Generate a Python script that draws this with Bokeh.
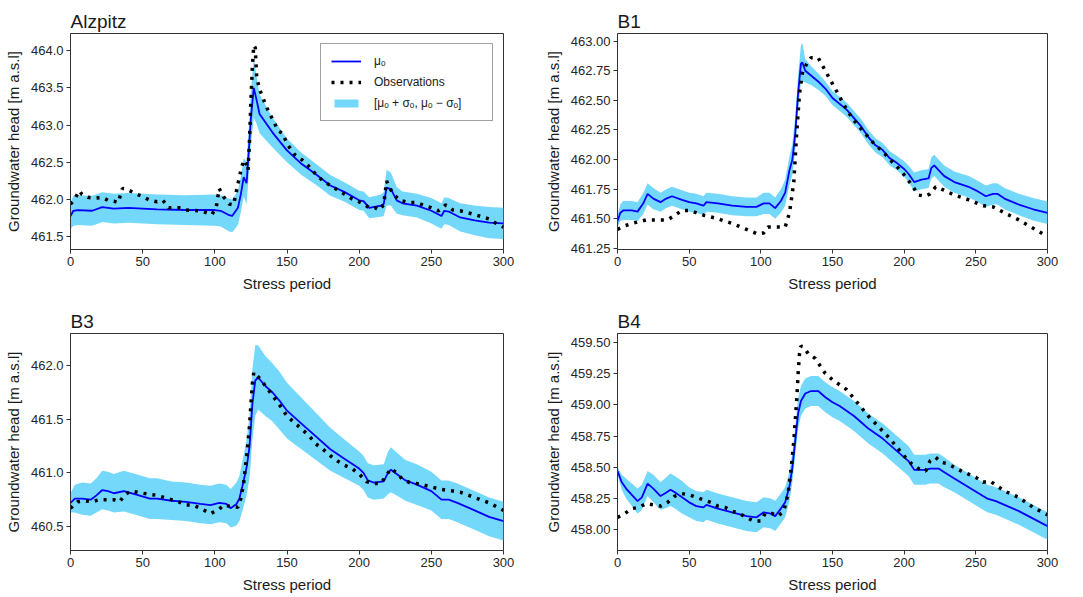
from bokeh.plotting import figure
from bokeh.layouts import column, row
from bokeh.models import Range1d, FixedTicker, NumeralTickFormatter, Legend, LegendItem
from bokeh.embed import file_html
from bokeh.resources import INLINE

FONT = "Liberation Sans"
BAND = "#74d8fb"
LINE = "#0000ff"
AX = "#333333"

x_ticks = [0, 50, 100, 150, 200, 250, 300]

# ---------------- Alzpitz ----------------
alz_x = [0, 2, 5, 15, 22, 30, 40, 60, 80, 100, 104, 110, 112, 116, 118, 120, 122, 124, 125, 127,
         129, 131, 140, 150, 160, 170, 180, 190, 200, 203, 207, 215, 217, 219, 222, 226, 230, 240, 250, 257,
         259, 262, 270, 280, 290, 300]
alz_mean = [461.78, 461.85, 461.86, 461.85, 461.90, 461.88, 461.89, 461.87, 461.86, 461.86,
            461.85, 461.79, 461.78, 461.89, 462.07, 462.30, 462.22, 462.79, 463.10, 463.50,
            463.33, 463.15, 462.90, 462.66, 462.48, 462.34, 462.19, 462.10, 461.99, 461.98,
            461.89, 461.92, 461.94, 462.16, 462.14, 461.99, 461.95, 461.92, 461.85, 461.78,
            461.85, 461.84, 461.76, 461.72, 461.69, 461.68]
alz_sigma = [0.18, 0.20, 0.20, 0.20, 0.20, 0.20, 0.20, 0.20, 0.20, 0.21,
             0.21, 0.22, 0.22, 0.23, 0.24, 0.26, 0.28, 0.32, 0.36, 0.40,
             0.32, 0.26, 0.20, 0.16, 0.15, 0.14, 0.14, 0.13, 0.13, 0.13,
             0.14, 0.15, 0.16, 0.24, 0.22, 0.18, 0.16, 0.16, 0.17, 0.17,
             0.18, 0.18, 0.19, 0.20, 0.21, 0.21]
alz_obs_x = [0, 3, 6, 8, 12, 17, 22, 26, 30, 33, 36, 40, 45, 50, 55, 60, 64, 68, 75, 80,
             90, 98, 101, 103, 106, 110, 113, 116, 118, 120, 122, 123, 124, 125, 126, 127, 128, 129, 131, 134,
             137, 140, 144, 147, 150, 155, 160, 165, 170, 175, 180, 185, 190, 195, 200, 204, 207, 211, 214, 217,
             219, 221, 224, 228, 235, 240, 245, 250, 255, 258, 260, 265, 270, 280, 290, 295, 300]
alz_obs = [461.94, 462.01, 462.12, 462.07, 462.03, 462.02, 462.03, 461.99, 461.98, 461.96,
           462.15, 462.13, 462.08, 462.04, 461.99, 461.97, 461.99, 461.89, 461.89, 461.86,
           461.85, 461.80, 461.90, 462.15, 462.04, 461.94, 461.93, 462.21, 462.39, 462.53,
           462.47, 462.39, 462.79, 463.33, 463.78, 464.07, 464.04, 463.64, 463.48, 463.33,
           463.19, 463.08, 462.92, 462.89, 462.75, 462.61, 462.54, 462.45, 462.34, 462.25,
           462.19, 462.13, 462.07, 462.01, 461.97, 461.93, 461.89, 461.89, 461.86, 461.93,
           462.25, 462.16, 462.07, 461.99, 461.96, 461.96, 461.92, 461.89, 461.85, 461.89,
           461.93, 461.86, 461.85, 461.80, 461.74, 461.68, 461.63]
alz_yticks = [461.5, 462.0, 462.5, 463.0, 463.5, 464.0]

# ---------------- B1 ----------------
b1_x = [0, 2, 4, 10, 14, 18, 21, 25, 30, 34, 38, 45, 50, 55, 60, 62, 70, 80, 90, 97,
        102, 106, 110, 114, 117, 120, 122, 124, 126, 128, 129, 131, 135, 140, 145, 150, 155, 160, 165, 170,
        175, 180, 185, 190, 195, 200, 203, 207, 212, 217, 219, 221, 224, 228, 235, 245, 250, 257, 262, 265,
        270, 280, 290, 300]
b1_mean = [461.48, 461.55, 461.57, 461.57, 461.56, 461.63, 461.71, 461.67, 461.64, 461.67,
           461.69, 461.66, 461.64, 461.63, 461.61, 461.64, 461.63, 461.61, 461.60, 461.60,
           461.63, 461.63, 461.59, 461.65, 461.72, 461.91, 462.00, 462.22, 462.56, 462.81,
           462.82, 462.75, 462.71, 462.66, 462.60, 462.52, 462.47, 462.42, 462.35, 462.28,
           462.19, 462.12, 462.08, 462.01, 461.97, 461.92, 461.88, 461.81, 461.83, 461.84,
           461.93, 461.95, 461.91, 461.86, 461.81, 461.77, 461.74, 461.69, 461.71, 461.71,
           461.67, 461.62, 461.58, 461.55]
b1_sigma = [0.05, 0.07, 0.08, 0.08, 0.08, 0.09, 0.09, 0.09, 0.08, 0.08,
            0.08, 0.08, 0.08, 0.08, 0.08, 0.08, 0.08, 0.08, 0.08, 0.08,
            0.09, 0.09, 0.09, 0.10, 0.11, 0.12, 0.13, 0.14, 0.15, 0.16,
            0.16, 0.10, 0.08, 0.07, 0.06, 0.06, 0.06, 0.06, 0.06, 0.06,
            0.06, 0.06, 0.06, 0.06, 0.06, 0.065, 0.07, 0.08, 0.08, 0.08,
            0.09, 0.09, 0.09, 0.09, 0.09, 0.09, 0.09, 0.09, 0.09, 0.09,
            0.09, 0.09, 0.095, 0.095]
b1_obs_x = [0, 5, 10, 20, 25, 35, 40, 45, 50, 60, 70, 80, 90, 98, 102, 105, 112, 117, 120, 123,
            125, 127, 129, 132, 135, 140, 145, 150, 155, 160, 165, 170, 175, 180, 185, 190, 195, 200, 205, 210,
            215, 218, 222, 228, 235, 245, 255, 262, 270, 280, 290, 300]
b1_obs = [461.41, 461.44, 461.46, 461.49, 461.49, 461.49, 461.53, 461.57, 461.57, 461.53,
          461.50, 461.46, 461.41, 461.37, 461.38, 461.43, 461.43, 461.43, 461.55, 461.81,
          462.22, 462.56, 462.73, 462.81, 462.86, 462.86, 462.75, 462.64, 462.53, 462.42,
          462.33, 462.26, 462.19, 462.12, 462.07, 462.00, 461.94, 461.87, 461.79, 461.70,
          461.69, 461.71, 461.77, 461.74, 461.70, 461.66, 461.61, 461.60, 461.55, 461.49,
          461.42, 461.35]
b1_yticks = [461.25, 461.5, 461.75, 462.0, 462.25, 462.5, 462.75, 463.0]

# ---------------- B3 ----------------
b3_x = [0, 3, 8, 14, 18, 22, 26, 30, 37, 45, 55, 60, 70, 80, 90, 97, 103, 108, 111, 115,
        117, 119, 122, 124, 125, 126, 128, 130, 135, 140, 145, 150, 155, 160, 170, 180, 190, 200, 203, 206,
        210, 217, 220, 222, 226, 232, 240, 250, 257, 262, 268, 280, 290, 300]
b3_mean = [460.72, 460.76, 460.76, 460.75, 460.79, 460.84, 460.83, 460.81, 460.83, 460.80,
           460.76, 460.76, 460.74, 460.73, 460.71, 460.70, 460.72, 460.71, 460.67, 460.71,
           460.76, 460.87, 461.05, 461.24, 461.43, 461.64, 461.86, 461.89, 461.81, 461.75,
           461.67, 461.58, 461.52, 461.46, 461.34, 461.22, 461.13, 461.04, 461.00, 460.93,
           460.91, 460.92, 461.00, 461.03, 460.99, 460.93, 460.89, 460.83, 460.75, 460.75,
           460.72, 460.65, 460.59, 460.55]
b3_sigma = [0.09, 0.13, 0.15, 0.15, 0.16, 0.18, 0.18, 0.18, 0.19, 0.19,
            0.19, 0.19, 0.18, 0.18, 0.18, 0.18, 0.18, 0.18, 0.18, 0.20,
            0.21, 0.23, 0.26, 0.29, 0.31, 0.33, 0.33, 0.30, 0.28, 0.27,
            0.27, 0.26, 0.25, 0.24, 0.22, 0.20, 0.18, 0.16, 0.16, 0.16,
            0.16, 0.16, 0.20, 0.21, 0.20, 0.19, 0.19, 0.18, 0.18, 0.18,
            0.18, 0.18, 0.18, 0.18]
b3_obs_x = [0, 5, 10, 15, 20, 25, 30, 34, 38, 42, 50, 55, 60, 65, 70, 75, 80, 85, 90, 97,
            103, 106, 110, 116, 118, 120, 122, 124, 125, 126, 127, 129, 132, 135, 140, 145, 150, 155, 160, 165,
            170, 175, 180, 185, 190, 195, 200, 205, 210, 215, 218, 222, 226, 230, 235, 240, 250, 255, 260, 265,
            270, 280, 290, 300]
b3_obs = [460.67, 460.73, 460.74, 460.73, 460.75, 460.75, 460.75, 460.73, 460.80, 460.83,
          460.81, 460.80, 460.79, 460.77, 460.75, 460.73, 460.70, 460.70, 460.67, 460.62,
          460.66, 460.70, 460.69, 460.68, 460.76, 460.91, 461.15, 461.43, 461.64, 461.83,
          461.94, 461.91, 461.87, 461.81, 461.72, 461.63, 461.53, 461.47, 461.41, 461.35,
          461.27, 461.22, 461.16, 461.11, 461.07, 461.04, 460.99, 460.92, 460.90, 460.90,
          460.96, 461.04, 461.00, 460.94, 460.91, 460.90, 460.87, 460.85, 460.84, 460.83,
          460.82, 460.77, 460.72, 460.65]
b3_yticks = [460.5, 461.0, 461.5, 462.0]

# ---------------- B4 ----------------
b4_x = [0, 3, 6, 10, 14, 17, 21, 25, 30, 33, 37, 40, 45, 50, 55, 60, 62, 70, 80, 90,
        97, 102, 107, 110, 114, 117, 120, 122, 124, 126, 128, 131, 135, 140, 145, 150, 155, 160, 165, 170,
        175, 180, 185, 190, 195, 200, 203, 207, 215, 218, 224, 228, 235, 245, 255, 258, 264, 270, 280, 290,
        300]
b4_mean = [458.47, 458.38, 458.33, 458.28, 458.23, 458.26, 458.37, 458.33, 458.27, 458.29,
           458.32, 458.30, 458.26, 458.22, 458.19, 458.18, 458.20, 458.17, 458.14, 458.11,
           458.10, 458.14, 458.13, 458.11, 458.17, 458.22, 458.35, 458.50, 458.71, 458.93,
           459.03, 459.09, 459.11, 459.11, 459.06, 459.02, 458.99, 458.95, 458.91, 458.86,
           458.81, 458.77, 458.73, 458.68, 458.63, 458.58, 458.55, 458.48, 458.48, 458.49,
           458.49, 458.46, 458.41, 458.34, 458.27, 458.25, 458.23, 458.20, 458.15, 458.09,
           458.03]
b4_sigma = [0.03, 0.06, 0.08, 0.09, 0.10, 0.10, 0.10, 0.11, 0.11, 0.12,
            0.13, 0.13, 0.13, 0.12, 0.12, 0.12, 0.12, 0.12, 0.12, 0.12,
            0.12, 0.12, 0.12, 0.12, 0.12, 0.12, 0.12, 0.12, 0.12, 0.12,
            0.12, 0.12, 0.12, 0.12, 0.12, 0.12, 0.12, 0.12, 0.12, 0.12,
            0.12, 0.12, 0.12, 0.12, 0.12, 0.12, 0.12, 0.12, 0.12, 0.12,
            0.12, 0.12, 0.11, 0.11, 0.11, 0.11, 0.11, 0.11, 0.11, 0.11,
            0.11]
b4_obs_x = [0, 5, 10, 15, 20, 25, 30, 35, 40, 45, 50, 55, 60, 65, 70, 75, 80, 85, 90, 95,
            100, 103, 108, 112, 116, 119, 121, 123, 125, 126, 127, 128, 130, 133, 138, 145, 150, 155, 160, 165,
            170, 175, 180, 185, 190, 195, 200, 205, 210, 215, 218, 222, 226, 230, 240, 250, 255, 260, 265, 270,
            280, 290, 300]
b4_obs = [458.10, 458.13, 458.17, 458.18, 458.21, 458.20, 458.19, 458.22, 458.27, 458.29,
          458.28, 458.26, 458.24, 458.22, 458.19, 458.18, 458.15, 458.13, 458.10, 458.07,
          458.07, 458.13, 458.13, 458.11, 458.15, 458.29, 458.47, 458.71, 459.03, 459.25,
          459.41, 459.47, 459.46, 459.41, 459.37, 459.25, 459.20, 459.16, 459.12, 459.05,
          458.98, 458.91, 458.85, 458.79, 458.73, 458.66, 458.59, 458.53, 458.49, 458.47,
          458.55, 458.58, 458.54, 458.53, 458.47, 458.42, 458.38, 458.39, 458.35, 458.31,
          458.26, 458.18, 458.12]
b4_yticks = [458.0, 458.25, 458.5, 458.75, 459.0, 459.25, 459.5]


def make_panel(title, mx, mean, sig, ox, oy, yr, yticks, fmt,
               width, height, left, right, top, bottom, legend=False):
    p = figure(width=width, height=height, x_range=Range1d(0, 300), y_range=Range1d(*yr),
               output_backend="svg", toolbar_location=None,
               min_border_left=left, min_border_right=right,
               min_border_top=top, min_border_bottom=bottom)
    upper = [m + s for m, s in zip(mean, sig)]
    lower = [m - s for m, s in zip(mean, sig)]
    band = p.varea(x=mx, y1=lower, y2=upper, fill_color=BAND, fill_alpha=1.0)
    mline = p.line(mx, mean, line_color=LINE, line_width=1.8)
    oline = p.line(ox, oy, line_color="black", line_width=3.5, line_dash="3 6")

    p.title.text = title
    p.title.text_font = FONT
    p.title.text_font_size = "19px"
    p.title.text_font_style = "normal"
    p.title.text_color = "#1a1a1a"
    p.title.align = "left"
    p.title.standoff = 4

    p.xgrid.visible = False
    p.ygrid.visible = False
    p.outline_line_color = AX
    p.outline_line_width = 1
    p.background_fill_color = "white"
    p.border_fill_color = "white"

    for ax in (p.xaxis[0], p.yaxis[0]):
        ax.axis_line_color = AX
        ax.major_tick_line_color = AX
        ax.major_tick_out = 4
        ax.major_tick_in = 0
        ax.minor_tick_line_color = None
        ax.major_label_text_font = FONT
        ax.major_label_text_font_size = "13px"
        ax.major_label_text_color = "#262626"
        ax.major_label_standoff = 3
        ax.axis_label_text_font = FONT
        ax.axis_label_text_font_size = "15px"
        ax.axis_label_text_font_style = "normal"
        ax.axis_label_text_color = "#1a1a1a"
        ax.axis_label_standoff = 6

    p.xaxis[0].ticker = FixedTicker(ticks=x_ticks)
    p.xaxis[0].axis_label = "Stress period"
    p.yaxis[0].ticker = FixedTicker(ticks=yticks)
    p.yaxis[0].formatter = NumeralTickFormatter(format=fmt)
    p.yaxis[0].axis_label = "Groundwater head [m a.s.l]"

    if legend:
        lg = Legend(items=[
            LegendItem(label="μₒ", renderers=[mline]),
            LegendItem(label="Observations", renderers=[oline]),
            LegendItem(label="[μₒ + σₒ, μₒ − σₒ]", renderers=[band]),
        ], location="top_right")
        lg.margin = 10
        lg.padding = 10
        lg.spacing = 7
        lg.glyph_width = 30
        lg.glyph_height = 10
        lg.label_height = 14
        lg.label_width = 108
        lg.label_standoff = 13
        lg.label_text_font = FONT
        lg.label_text_font_size = "12px"
        lg.label_text_color = "#1a1a1a"
        lg.border_line_color = "#444444"
        lg.border_line_width = 1.5
        lg.background_fill_alpha = 1.0
        p.add_layout(lg, "center")
    return p


p1 = make_panel("Alzpitz", alz_x, alz_mean, alz_sigma, alz_obs_x, alz_obs,
                (461.33, 464.23), alz_yticks, "0.0", 540, 300, 70, 37, 33, 51, legend=True)
p2 = make_panel("B1", b1_x, b1_mean, b1_sigma, b1_obs_x, b1_obs,
                (461.24, 463.065), b1_yticks, "0.00", 543, 300, 77, 36, 33, 51)
p3 = make_panel("B3", b3_x, b3_mean, b3_sigma, b3_obs_x, b3_obs,
                (460.276, 462.30), b3_yticks, "0.0", 540, 297, 70, 37, 33, 47)
p4 = make_panel("B4", b4_x, b4_mean, b4_sigma, b4_obs_x, b4_obs,
                (457.835, 459.57), b4_yticks, "0.00", 543, 297, 77, 36, 33, 47)

layout = column(row(p1, p2, spacing=0), row(p3, p4, spacing=0), spacing=0)

open("out.html", "w").write(file_html(layout, INLINE))
